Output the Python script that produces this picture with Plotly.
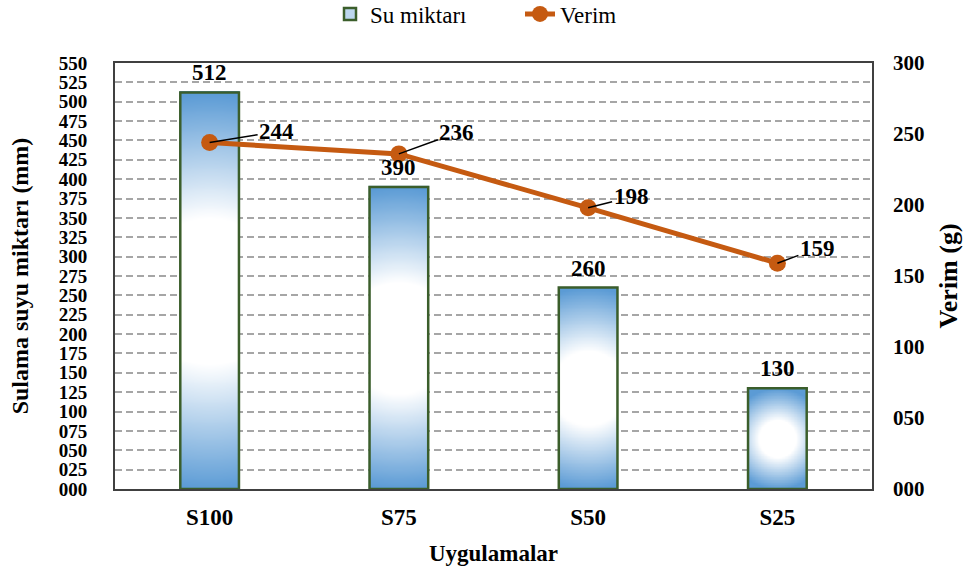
import numpy as np
import plotly.graph_objects as go

# ---- data ----
categories = ["S100", "S75", "S50", "S25"]
su_miktari = [512, 390, 260, 130]      # irrigation water (mm), left axis
verim = [244, 236, 198, 159]           # yield (g), right axis
left_ticks = list(range(0, 551, 25))
right_ticks = list(range(0, 301, 50))
verim_label_offsets = [(67, -11), (58, -21), (43, -11), (40, -15)]

FONT = "Liberation Serif, Times New Roman, serif"
BAR_W = 0.31
Y1_MAX = 550
Y2_MAX = 300

W, H = 963, 569
M_L, M_R, M_T, M_B = 115, 91, 63, 80
plot_w = W - M_L - M_R
plot_h = H - M_T - M_B
px_per_x = plot_w / len(categories)
px_per_y = plot_h / Y1_MAX

pos = list(range(len(categories)))

BLUE = "#5B9BD5"
GREEN = "#3B5E2B"
ORANGE = "#C55A11"

fig = go.Figure()

# radial white-to-blue fill inside each bar
fill_scale = [[0, "#FFFFFF"], [0.37, "#FFFFFF"], [1, BLUE]]
for p, v in zip(pos, su_miktari):
    xs = np.linspace(p - BAR_W / 2, p + BAR_W / 2, 40)
    ys = np.linspace(0, v, 140)
    X, Y = np.meshgrid(xs, ys)
    dx = (X - p) * px_per_x
    dy = (Y - v / 2) * px_per_y
    radius = max(BAR_W * px_per_x, v * px_per_y) / 2
    t = np.clip(np.hypot(dx, dy) / radius, 0, 1)
    fig.add_trace(go.Heatmap(
        x=xs, y=ys, z=t, zmin=0, zmax=1, colorscale=fill_scale,
        showscale=False, zsmooth="best", hoverinfo="skip",
    ))

# bar outlines
fig.add_trace(go.Bar(
    x=pos, y=su_miktari, width=BAR_W, name="Su miktarı", showlegend=False,
    marker=dict(color="rgba(0,0,0,0)", line=dict(color=GREEN, width=2.5)),
))
# legend entry for the bars
fig.add_trace(go.Bar(
    x=[None], y=[None], name="Su miktarı",
    marker=dict(color="#BDD7EE", line=dict(color=GREEN, width=2.5)),
))

# yield line
fig.add_trace(go.Scatter(
    x=pos, y=verim, yaxis="y2", name="Verim", mode="lines+markers",
    line=dict(color=ORANGE, width=5), marker=dict(size=17, color=ORANGE),
))

annotations = []
for p, v in zip(pos, su_miktari):
    annotations.append(dict(
        x=p, y=v, xref="x", yref="y", text=f"<b>{v}</b>", showarrow=False,
        yanchor="bottom", yshift=5,
        font=dict(family=FONT, size=23, color="black"),
    ))
for p, v, (ax, ay) in zip(pos, verim, verim_label_offsets):
    annotations.append(dict(
        x=p, y=v, xref="x", yref="y2", text=f"<b>{v}</b>", showarrow=True,
        arrowhead=0, arrowwidth=1.5, arrowcolor="black", ax=ax, ay=ay,
        standoff=0, font=dict(family=FONT, size=23, color="black"),
    ))

fig.update_layout(
    width=W, height=H,
    margin=dict(l=M_L, r=M_R, t=M_T, b=M_B, autoexpand=False),
    paper_bgcolor="white", plot_bgcolor="white",
    barmode="overlay",
    font=dict(family=FONT, color="black"),
    legend=dict(
        orientation="h", x=330 / W, xanchor="left", xref="container",
        y=1 - 14 / H, yanchor="middle", yref="container", entrywidth=145,
        font=dict(family=FONT, size=23, color="black"),
    ),
    xaxis=dict(
        range=[-0.5, len(categories) - 0.5], tickvals=pos, ticktext=categories,
        tickfont=dict(family=FONT, size=23, weight="bold"),
        showgrid=False, zeroline=False, showline=True, mirror=True,
        linecolor="#404040", linewidth=2, ticks="", ticklabelstandoff=6,
        title=dict(text="Uygulamalar", font=dict(family=FONT, size=23, weight="bold"),
                   standoff=16),
    ),
    yaxis=dict(
        range=[0, Y1_MAX], tickvals=left_ticks, tickformat="03d",
        tickfont=dict(family=FONT, size=19, weight="bold"),
        showgrid=True, gridcolor="#A6A6A6", griddash="7px,4px", gridwidth=1.5,
        zeroline=False, showline=True, mirror=True, linecolor="#404040",
        linewidth=2, ticks="", ticklabelstandoff=22,
        title=dict(text="Sulama suyu miktarı (mm)",
                   font=dict(family=FONT, size=24, weight="bold"), standoff=23),
    ),
    yaxis2=dict(
        overlaying="y", side="right", range=[0, Y2_MAX], tickvals=right_ticks,
        tickformat="03d", tickfont=dict(family=FONT, size=21, weight="bold"),
        showgrid=False, zeroline=False, showline=False, ticks="",
        ticklabelstandoff=20,
        title=dict(text="Verim (g)", font=dict(family=FONT, size=26, weight="bold"),
                   standoff=15),
    ),
    annotations=annotations,
)

fig.write_html("out.html")
